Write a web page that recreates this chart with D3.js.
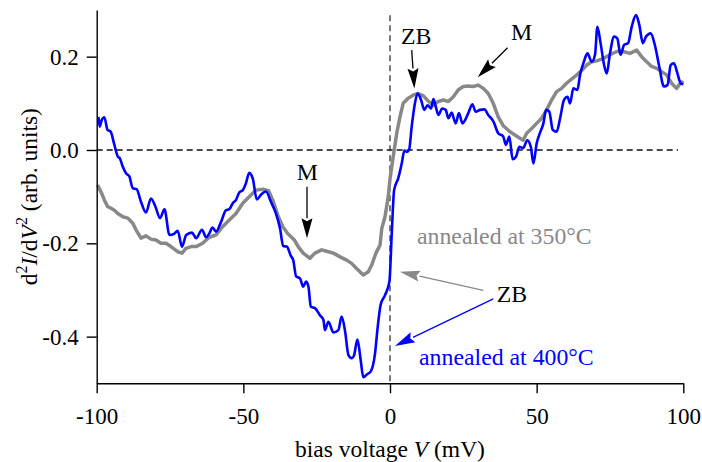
<!DOCTYPE html>
<html>
<head>
<meta charset="utf-8">
<script src="https://cdn.jsdelivr.net/npm/d3@7"></script>
<style>
  body { margin: 0; background: #fff; }
  text { font-family: "Liberation Serif", "Times New Roman", serif; }
</style>
</head>
<body>
<svg id="canvas" width="702" height="462"></svg>
<script>
// blue curve, annealed at 400 C  [bias mV, d2I/dV2]
let blueV = [-99.4,-99.0,-98.3,-97.4,-96.3,-95.2,-94.1,-92.8,-92.1,-91.1,-90.0,-88.9,-87.7,-86.4,-84.9,-83.2,-81.5,-80.0,-78.4,-76.9,-75.2,-73.5,-72.4,-70.9,-69.5,-67.5,-66.1,-64.1,-62.7,-61.6,-60.5,-59.3,-57.6,-55.9,-54.8,-53.6,-52.5,-51.4,-50.2,-49.1,-48.0,-46.8,-45.4,-44.0,-42.3,-40.6,-38.9,-37.5,-36.4,-35.2,-33.8,-33.0,-32.0,-30.7,-29.6,-28.6,-27.8,-27.0,-25.6,-23.9,-22.7,-22.2,-21.0,-19.3,-17.6,-16.5,-15.3,-14.2,-13.1,-12.3,-11.1,-10.0,-9.1,-7.7,-6.6,-5.1,-4.3,-3.2,-1.7,-0.2,0.6,1.4,2.8,4.0,4.9,5.7,6.5,7.4,8.5,9.4,10.6,11.7,12.8,14.0,14.8,15.6,16.5,17.8,19.0,19.9,21.0,22.4,23.5,24.7,25.6,26.7,28.1,29.2,30.7,32.2,33.5,35.2,36.9,38.6,39.5,40.7,41.8,43.0,44.1,45.4,46.8,48.0,48.9,50.0,51.1,52.3,53.2,54.3,55.5,56.8,58.0,59.3,60.5,61.4,62.5,63.9,64.8,66.1,67.3,68.8,69.9,70.7,71.8,73.0,73.9,75.0,76.4,77.5,78.6,79.8,81.2,82.4,83.9,85.0,86.2,87.3,88.9,90.3,91.8,93.4,94.6,95.7,96.8,98.0,99.1,100]
let blueY = [0.071,0.05,0.064,0.07,0.043,0.039,0.014,-0.014,-0.018,-0.036,-0.05,-0.056,-0.082,-0.084,-0.111,-0.134,-0.104,-0.121,-0.146,-0.127,-0.182,-0.179,-0.173,-0.207,-0.182,-0.177,-0.189,-0.171,-0.187,-0.179,-0.166,-0.175,-0.154,-0.129,-0.127,-0.114,-0.107,-0.091,-0.086,-0.071,-0.049,-0.061,-0.106,-0.096,-0.089,-0.111,-0.136,-0.168,-0.206,-0.207,-0.227,-0.236,-0.271,-0.275,-0.293,-0.282,-0.293,-0.336,-0.339,-0.354,-0.364,-0.386,-0.368,-0.391,-0.386,-0.357,-0.389,-0.439,-0.446,-0.441,-0.406,-0.45,-0.487,-0.48,-0.475,-0.436,-0.386,-0.332,-0.311,-0.282,-0.179,-0.086,-0.061,-0.029,-0.001,-0.004,0.0,0.05,0.1,0.121,0.107,0.086,0.096,0.089,0.109,0.093,0.075,0.089,0.086,0.068,0.08,0.057,0.079,0.057,0.064,0.079,0.098,0.082,0.086,0.087,0.075,0.062,0.036,0.029,0.011,0.029,-0.02,-0.014,0.007,0.004,0.021,0.007,-0.029,0.014,0.036,0.057,0.086,0.082,0.043,0.039,0.068,0.107,0.114,0.1,0.132,0.129,0.161,0.189,0.207,0.189,0.204,0.264,0.229,0.182,0.164,0.207,0.243,0.239,0.204,0.225,0.229,0.264,0.289,0.268,0.229,0.243,0.25,0.225,0.179,0.136,0.139,0.182,0.186,0.164,0.143,0.141]

// gray curve, annealed at 350 C
let grayV = [-99.7,-98.3,-97.4,-96.3,-95.1,-94.0,-92.8,-91.1,-89.4,-87.7,-86.6,-84.9,-83.2,-81.5,-79.8,-78.1,-76.4,-74.7,-72.4,-70.9,-69.6,-67.8,-66.1,-63.9,-61.6,-59.3,-57.0,-54.8,-52.5,-50.2,-48.0,-45.7,-43.4,-41.4,-40.0,-38.3,-36.6,-34.9,-32.6,-31.3,-29.6,-27.3,-25.6,-23.3,-21.0,-19.3,-17.0,-14.8,-13.1,-11.4,-9.1,-7.4,-6.2,-4.8,-3.4,-2.8,-1.7,-0.6,0.0,1.1,2.3,3.4,4.5,6.2,8.0,9.6,11.4,13.1,14.8,16.5,18.2,19.9,21.6,23.3,25.0,26.7,28.4,30.1,31.8,33.5,35.2,36.9,38.6,40.9,42.6,44.3,45.4,46.6,48.3,50.0,51.7,53.4,55.1,56.8,58.5,60.2,61.9,63.7,65.4,67.1,68.8,70.5,72.7,75.0,77.3,79.5,81.8,84.1,85.8,87.5,89.2,90.9,92.6,94.3,96.0,97.7,99.4,100]
let grayY = [-0.075,-0.093,-0.107,-0.121,-0.125,-0.129,-0.136,-0.143,-0.146,-0.157,-0.171,-0.189,-0.184,-0.191,-0.193,-0.2,-0.2,-0.207,-0.218,-0.221,-0.211,-0.207,-0.207,-0.2,-0.187,-0.182,-0.164,-0.15,-0.136,-0.114,-0.1,-0.086,-0.084,-0.087,-0.107,-0.139,-0.164,-0.179,-0.193,-0.207,-0.221,-0.232,-0.221,-0.214,-0.218,-0.221,-0.229,-0.236,-0.243,-0.254,-0.268,-0.261,-0.246,-0.221,-0.204,-0.168,-0.143,-0.1,-0.062,-0.014,0.036,0.071,0.1,0.111,0.118,0.121,0.116,0.104,0.096,0.104,0.107,0.104,0.114,0.129,0.136,0.137,0.136,0.139,0.132,0.121,0.1,0.071,0.052,0.039,0.032,0.025,0.021,0.036,0.046,0.057,0.068,0.086,0.107,0.125,0.132,0.143,0.152,0.161,0.171,0.182,0.189,0.191,0.196,0.204,0.211,0.211,0.207,0.214,0.2,0.189,0.179,0.175,0.168,0.161,0.143,0.132,0.146,0.143]

let xTicks = [-100, -50, 0, 50, 100]
let yTicks = [0.2, 0.0, -0.2, -0.4]

// labels and arrows, in data units
let labels = [
    { text: 'ZB', v: 8.9, y: 0.227, anchor: 'middle', color: '#000' },
    { text: 'M', v: -28.2, y: -0.064, anchor: 'middle', color: '#000' },
    { text: 'M', v: 44.9, y: 0.236, anchor: 'middle', color: '#000' },
    { text: 'ZB', v: 36.4, y: -0.325, anchor: 'start', color: '#000' },
    { text: 'annealed at 350°C', v: 9.2, y: -0.201, anchor: 'start', color: '#888888' },
    { text: 'annealed at 400°C', v: 9.9, y: -0.461, anchor: 'start', color: '#0000ff' }
]
let arrows = [
    { from: [7.4, 0.214], to: [8.3, 0.132], color: '#000' },
    { from: [-28.3, -0.079], to: [-28.3, -0.189], color: '#000' },
    { from: [40.1, 0.219], to: [29.9, 0.156], color: '#000' },
    { from: [31.8, -0.301], to: [3.4, -0.261], color: '#888888' },
    { from: [35.2, -0.319], to: [1.7, -0.42], color: '#0000ff' }
]

let canvas = d3.select('#canvas')
let plotLeft = 96.7, plotRight = 683.3, plotTop = 10, plotBottom = 383.3

let xScale = d3.scaleLinear().domain([-100, 100]).range([plotLeft, plotRight])
let yScale = d3.scaleLinear().domain([-0.5, 0.3]).range([plotBottom, plotTop])

let fmtY = (d) => d3.format('.1f')(d).replace('−', '-')

// dashed zero lines
canvas.append('line')
    .attr('x1', xScale(-100)).attr('x2', xScale(98.2))
    .attr('y1', yScale(0)).attr('y2', yScale(0))
    .attr('stroke', '#111').attr('stroke-width', 1.3)
    .attr('stroke-dasharray', '6,4')
canvas.append('line')
    .attr('x1', xScale(0)).attr('x2', xScale(0))
    .attr('y1', yScale(0.289)).attr('y2', yScale(-0.5))
    .attr('stroke', '#333').attr('stroke-width', 1.3)
    .attr('stroke-dasharray', '6,4')

let toPts = (vs, ys) => vs.map((v, i) => [v, ys[i]])

let line = d3.line()
    .x((d) => xScale(d[0]))
    .y((d) => yScale(d[1]))

canvas.append('path')
    .attr('d', line(toPts(grayV, grayY)))
    .attr('fill', 'none')
    .attr('stroke', '#888888')
    .attr('stroke-width', 3.5)
    .attr('stroke-linejoin', 'round')

canvas.append('path')
    .attr('d', line.curve(d3.curveMonotoneX)(toPts(blueV, blueY)))
    .attr('fill', 'none')
    .attr('stroke', '#0000ff')
    .attr('stroke-width', 2.6)
    .attr('stroke-linejoin', 'round')

// axes
let xAxis = canvas.append('g')
    .attr('transform', 'translate(0,' + plotBottom + ')')
    .call(d3.axisBottom(xScale).tickValues(xTicks).tickSize(10).tickPadding(14).tickSizeOuter(0)
        .tickFormat((d) => String(d)))
let yAxis = canvas.append('g')
    .attr('transform', 'translate(' + plotLeft + ',0)')
    .call(d3.axisLeft(yScale).tickValues(yTicks).tickSize(10).tickPadding(8).tickSizeOuter(0)
        .tickFormat(fmtY))

;[xAxis, yAxis].forEach((g) => {
    g.select('.domain').attr('stroke', '#000').attr('stroke-width', 1.4)
    g.selectAll('.tick line').attr('stroke', '#000').attr('stroke-width', 1.4)
    g.selectAll('.tick text')
        .attr('fill', '#000')
        .style('font-family', '"Liberation Serif", serif')
        .style('font-size', '23px')
})

// axis titles
canvas.append('text')
    .attr('x', 390).attr('y', 457)
    .attr('text-anchor', 'middle')
    .style('font-size', '23.5px')
    .html('bias voltage <tspan font-style="italic">V</tspan> (mV)')

canvas.append('text')
    .attr('transform', 'translate(37,' + ((plotTop + plotBottom) / 2) + ') rotate(-90)')
    .attr('text-anchor', 'middle')
    .style('font-size', '23.5px')
    .html('d<tspan dy="-10" font-size="16">2</tspan><tspan dy="10" font-style="italic">I</tspan>/d<tspan font-style="italic">V</tspan><tspan dy="-10" font-size="16">2</tspan><tspan dy="10"> (arb. units)</tspan>')

// annotations
canvas.selectAll('text.note')
    .data(labels)
    .enter()
    .append('text')
    .attr('class', 'note')
    .attr('x', (d) => xScale(d.v))
    .attr('y', (d) => yScale(d.y))
    .attr('text-anchor', (d) => d.anchor)
    .attr('fill', (d) => d.color)
    .style('font-size', '23.8px')
    .text((d) => d.text)

arrows.forEach((a) => {
    let x1 = xScale(a.from[0]), y1 = yScale(a.from[1])
    let x2 = xScale(a.to[0]), y2 = yScale(a.to[1])
    let ang = Math.atan2(y2 - y1, x2 - x1)
    let len = 20, half = 5.5
    let bx = x2 - len * Math.cos(ang), by = y2 - len * Math.sin(ang)
    let nx = -Math.sin(ang), ny = Math.cos(ang)
    canvas.append('line')
        .attr('x1', x1).attr('y1', y1).attr('x2', bx).attr('y2', by)
        .attr('stroke', a.color).attr('stroke-width', 1.3)
    let nb = 3
    let pts = [
        [x2, y2],
        [bx + nx * half, by + ny * half],
        [bx + nb * Math.cos(ang), by + nb * Math.sin(ang)],
        [bx - nx * half, by - ny * half]
    ]
    canvas.append('polygon')
        .attr('points', pts.map((p) => p.join(',')).join(' '))
        .attr('fill', a.color)
})
</script>
</body>
</html>
